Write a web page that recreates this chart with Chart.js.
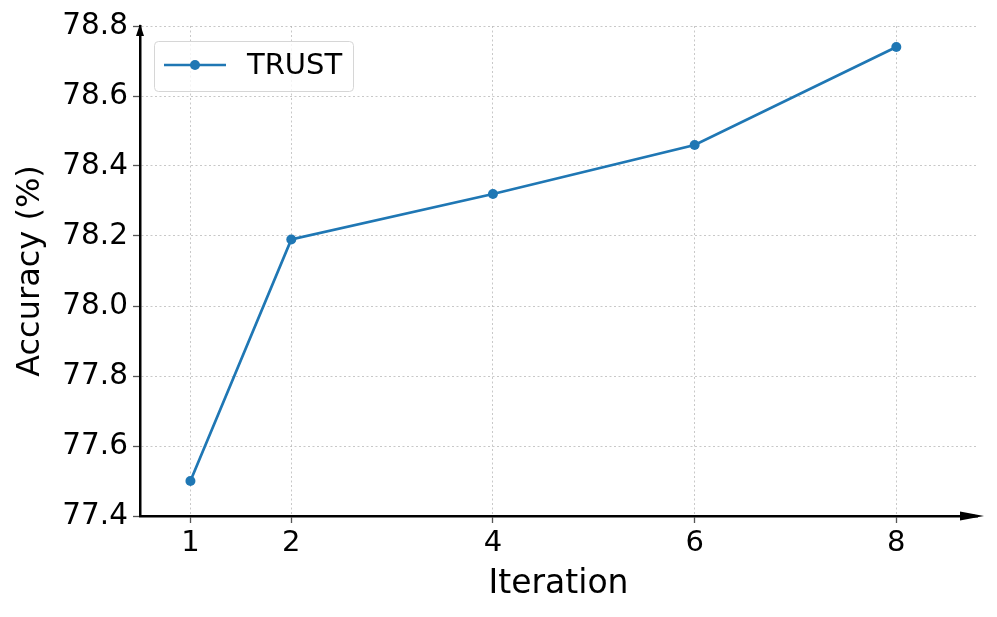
<!DOCTYPE html>
<html>
<head>
<meta charset="utf-8">
<script src="https://cdn.jsdelivr.net/npm/chart.js@4.4.0/dist/chart.umd.min.js"></script>
<style>
    html, body { margin: 0; padding: 0; background: #ffffff; }
    #wrap { width: 997px; height: 617px; }
</style>
</head>
<body>
<div id="wrap"><canvas id="accChart" width="997" height="617"></canvas></div>
<script>
    // Chart data
    const seriesLabel = 'TRUST';
    const iterations = [1, 2, 4, 6, 8];
    const accuracy = [77.50, 78.19, 78.32, 78.46, 78.74];
    const xTicks = [1, 2, 4, 6, 8];
    const yTicks = [77.4, 77.6, 77.8, 78.0, 78.2, 78.4, 78.6, 78.8];

    const FONT = "'DejaVu Sans', sans-serif";
    const LINE_COLOR = '#1f77b4';

    // Arrow heads on the axis ends
    const axisArrows = {
        id: 'axisArrows',
        afterDraw(chart) {
            const { ctx, chartArea } = chart;
            const x0 = chartArea.left;
            const y0 = chartArea.bottom;
            ctx.save();
            ctx.setLineDash([]);
            ctx.fillStyle = '#000000';
            ctx.strokeStyle = '#000000';
            ctx.lineWidth = 2.5;
            // x axis extension + head
            ctx.beginPath();
            ctx.moveTo(chartArea.right - 2, y0);
            ctx.lineTo(966, y0);
            ctx.stroke();
            ctx.beginPath();
            ctx.moveTo(960, y0 - 4.5);
            ctx.lineTo(984, y0);
            ctx.lineTo(960, y0 + 4.5);
            ctx.closePath();
            ctx.fill();
            // y axis head
            ctx.beginPath();
            ctx.moveTo(x0 - 4, chartArea.top + 10);
            ctx.lineTo(x0, chartArea.top - 2);
            ctx.lineTo(x0 + 4, chartArea.top + 10);
            ctx.closePath();
            ctx.fill();
            ctx.restore();
        }
    };

    // Framed legend, matplotlib style
    const framedLegend = {
        id: 'framedLegend',
        afterDraw(chart) {
            const { ctx } = chart;
            const ds = chart.data.datasets[0];
            const bx = 154, by = 41, bw = 199, bh = 50;
            ctx.save();
            ctx.setLineDash([]);
            ctx.beginPath();
            ctx.roundRect(bx + 0.5, by + 0.5, bw, bh, 4);
            ctx.fillStyle = 'rgba(255,255,255,0.8)';
            ctx.fill();
            ctx.strokeStyle = '#d6d6d6';
            ctx.lineWidth = 1;
            ctx.stroke();

            const ly = by + bh / 2 - 1;
            ctx.strokeStyle = ds.borderColor;
            ctx.lineWidth = 2.5;
            ctx.beginPath();
            ctx.moveTo(164, ly);
            ctx.lineTo(226, ly);
            ctx.stroke();
            ctx.fillStyle = ds.borderColor;
            ctx.beginPath();
            ctx.arc(195, ly, 5, 0, Math.PI * 2);
            ctx.fill();

            ctx.fillStyle = '#000000';
            ctx.font = '29px ' + FONT;
            ctx.textBaseline = 'middle';
            ctx.textAlign = 'left';
            ctx.fillText(ds.label, 247, ly + 1);
            ctx.restore();
        }
    };

    const gridOpts = {
        color: 'rgba(176,176,176,0.7)',
        lineWidth: 1,
        tickColor: '#555555',
        tickLength: 7,
        tickWidth: 1.3,
        tickBorderDash: []
    };

    const ctx = document.getElementById('accChart');

    new Chart(ctx, {
        type: 'line',
        data: {
            datasets: [{
                label: seriesLabel,
                data: iterations.map((x, i) => ({ x: x, y: accuracy[i] })),
                borderColor: LINE_COLOR,
                backgroundColor: LINE_COLOR,
                borderWidth: 2.7,
                pointRadius: 5,
                pointHoverRadius: 5,
                pointBorderWidth: 0,
                tension: 0,
                fill: false,
                clip: false
            }]
        },
        options: {
            responsive: false,
            animation: false,
            layout: {
                padding: { left: 0, right: 20, top: 26, bottom: 0 }
            },
            plugins: {
                legend: { display: false },
                tooltip: { enabled: false }
            },
            scales: {
                x: {
                    type: 'linear',
                    min: 0.5,
                    max: 8.8,
                    afterBuildTicks: scale => {
                        scale.ticks = xTicks.map(v => ({ value: v }));
                    },
                    afterFit: scale => { scale.height = 101; },
                    ticks: {
                        color: '#000000',
                        font: { family: FONT, size: 29 },
                        padding: 3,
                        maxRotation: 0,
                        callback: v => String(v)
                    },
                    grid: gridOpts,
                    border: { display: true, color: '#000000', width: 2.5, dash: [2, 2.5] },
                    title: {
                        display: true,
                        text: 'Iteration',
                        color: '#000000',
                        font: { family: FONT, size: 33 },
                        padding: { top: 0, bottom: 13 }
                    }
                },
                y: {
                    type: 'linear',
                    min: 77.4,
                    max: 78.8,
                    afterBuildTicks: scale => {
                        scale.ticks = yTicks.map(v => ({ value: v }));
                    },
                    afterFit: scale => { scale.width = 140; },
                    ticks: {
                        color: '#000000',
                        font: { family: FONT, size: 29.5 },
                        padding: 5,
                        callback: v => Number(v).toFixed(1)
                    },
                    grid: gridOpts,
                    border: { display: true, color: '#000000', width: 2.5, dash: [2, 2.5] },
                    title: {
                        display: true,
                        text: 'Accuracy (%)',
                        color: '#000000',
                        font: { family: FONT, size: 32 },
                        padding: { top: 11, bottom: 0 }
                    }
                }
            }
        },
        plugins: [axisArrows, framedLegend]
    });
</script>
</body>
</html>
